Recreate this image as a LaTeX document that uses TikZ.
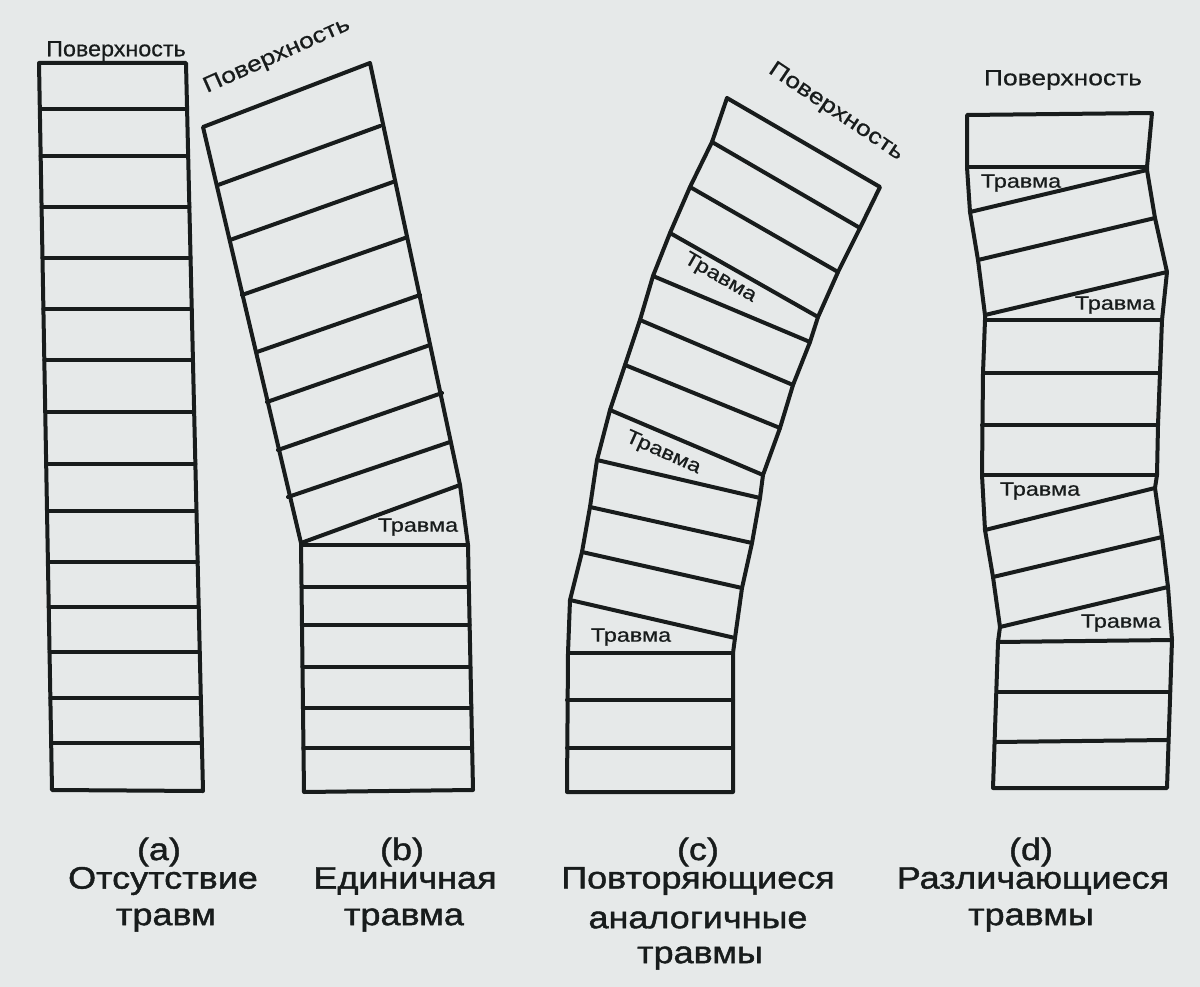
\documentclass[tikz,border=0pt]{standalone}
\usepackage{fontspec}
\setmainfont{Liberation Sans}
\newfontfamily\labfont[FakeStretch=1.2,FakeBold=0.6]{Liberation Sans}
\newfontfamily\surfafont[FakeStretch=1.06,FakeBold=0.6]{Liberation Sans}
\newfontfamily\captfont[FakeStretch=1.16,FakeBold=1.4]{Liberation Sans}
\definecolor{paper}{RGB}{230,233,233}
\definecolor{ink}{RGB}{24,28,28}
\begin{document}
\begin{tikzpicture}[x=1pt,y=-1pt,
  col/.style={line width=4pt, draw=ink, line join=round, line cap=round},
  sep/.style={line width=4pt, draw=ink, line cap=round},
  surf/.style={font=\labfont\fontsize{22}{22}\selectfont, text=ink, inner sep=0pt},
  surfa/.style={font=\surfafont\fontsize{22}{22}\selectfont, text=ink, inner sep=0pt},
  inj/.style={font=\labfont\fontsize{19.5}{19.5}\selectfont, text=ink, inner sep=0pt},
  capt/.style={font=\captfont\fontsize{31}{31}\selectfont, text=ink, inner sep=0pt}]
\fill[paper] (0,0) rectangle (1200,987);
\useasboundingbox (0,0) rectangle (1200,987);

% ---------- column (a)
\draw[col] (39,63) -- (52,790) -- (203,791) -- (186,63) -- cycle;
\foreach \yy in {109,156,207,258,309,360,412,464,511,562,607,652,698,743}{
  \draw[sep] ({39+13*(\yy-63)/727},\yy) -- ({186+17*(\yy-63)/728},\yy);
}
\node[surfa] (sa) at (116,51) {Поверхность};

% ---------- column (b)
\draw[col] (203,127) -- (301,543) -- (304,792) -- (473,790) -- (468,545) -- (460,485) -- (370,63) -- cycle;
\foreach \la/\lb/\ra/\rb in {218/185/380/126, 230/240/393/182, 242/295/405/238, 257/352/420/295,
  267/402/430/345, 278/450/442/393, 288/497/450/442, 301/543/460/485}{
  \draw[sep] (\la,\lb) -- (\ra,\rb);
}
\foreach \yy in {545,587,625,667,708,748}{
  \draw[sep] ({301+3*(\yy-545)/247},\yy) -- ({468+5*(\yy-545)/245},\yy);
}
\node[surf, rotate=24] (sb) at (277,56) {Поверхность};
\node[inj] (tb) at (418,527) {Травма};

% ---------- column (c)
\draw[col] (727,98) -- (712,142) -- (690,187) -- (670,233) -- (653,276) -- (640,320) -- (625,365)
  -- (610,410) -- (597,460) -- (590,507) -- (582,552) -- (570,600) -- (568,653) -- (567,792)
  -- (733,792) -- (733,653) -- (735,638) -- (742,588) -- (752,543) -- (760,498) -- (763,475)
  -- (780,428) -- (793,385) -- (810,342) -- (818,317) -- (838,272) -- (860,228) -- (880,187) -- cycle;
\foreach \la/\lb/\ra/\rb in {712/142/860/228, 690/187/838/272, 670/233/818/317, 653/276/810/342,
  640/320/793/385, 625/365/780/428, 610/410/763/475, 597/460/760/498, 590/507/752/543,
  582/552/742/588, 570/600/735/638, 568/653/733/653, 567/700/733/700, 567/748/733/748}{
  \draw[sep] (\la,\lb) -- (\ra,\rb);
}
\node[surf, rotate=-34] (sc) at (836,112) {Поверхность};
\node[inj, rotate=-30] (tc1) at (720,278) {Травма};
\node[inj, rotate=-24] (tc2) at (663,453) {Травма};
\node[inj] (tc3) at (631,637) {Травма};

% ---------- column (d)
\draw[col] (967,115) -- (967,167) -- (970,212) -- (978,260) -- (985,315) -- (985,320) -- (983,373)
  -- (982,475) -- (985,530) -- (993,577) -- (1000,627) -- (998,642) -- (993,788)
  -- (1167,788) -- (1172,640) -- (1168,587) -- (1162,537) -- (1155,488) -- (1157,475)
  -- (1158,425) -- (1162,320) -- (1167,272) -- (1155,218) -- (1147,170) -- (1147,167) -- (1152,113) -- cycle;
\foreach \la/\lb/\ra/\rb in {967/167/1147/167, 970/212/1147/170, 978/260/1155/218, 985/315/1167/272,
  985/320/1162/320, 983/373/1160/373, 982/425/1158/425, 982/475/1157/475, 985/530/1155/488,
  993/577/1162/537, 1000/627/1168/587, 998/642/1172/640, 997/692/1170/692, 995/742/1168/740}{
  \draw[sep] (\la,\lb) -- (\ra,\rb);
}
\node[surf] (sd) at (1063,80) {Поверхность};
\node[inj] (td1) at (1021,183) {Травма};
\node[inj] (td2) at (1115,305) {Травма};
\node[inj] (td3) at (1040,491) {Травма};
\node[inj] (td4) at (1121,623) {Травма};

% ---------- captions
\node[capt] (ka) at (159,852) {(a)};
\node[capt] (na1) at (163,881) {Отсутствие};
\node[capt] (na2) at (166,920) {травм};
\node[capt] (kb) at (402,852) {(b)};
\node[capt] (nb1) at (405,881) {Единичная};
\node[capt] (nb2) at (404,920) {травма};
\node[capt] (kc) at (698,852) {(c)};
\node[capt] (nc1) at (698,881) {Повторяющиеся};
\node[capt] (nc2) at (698,920) {аналогичные};
\node[capt] (nc3) at (700,958) {травмы};
\node[capt] (kd) at (1031,852) {(d)};
\node[capt] (nd1) at (1033,881) {Различающиеся};
\node[capt] (nd2) at (1031,920) {травмы};
\end{tikzpicture}
\end{document}
